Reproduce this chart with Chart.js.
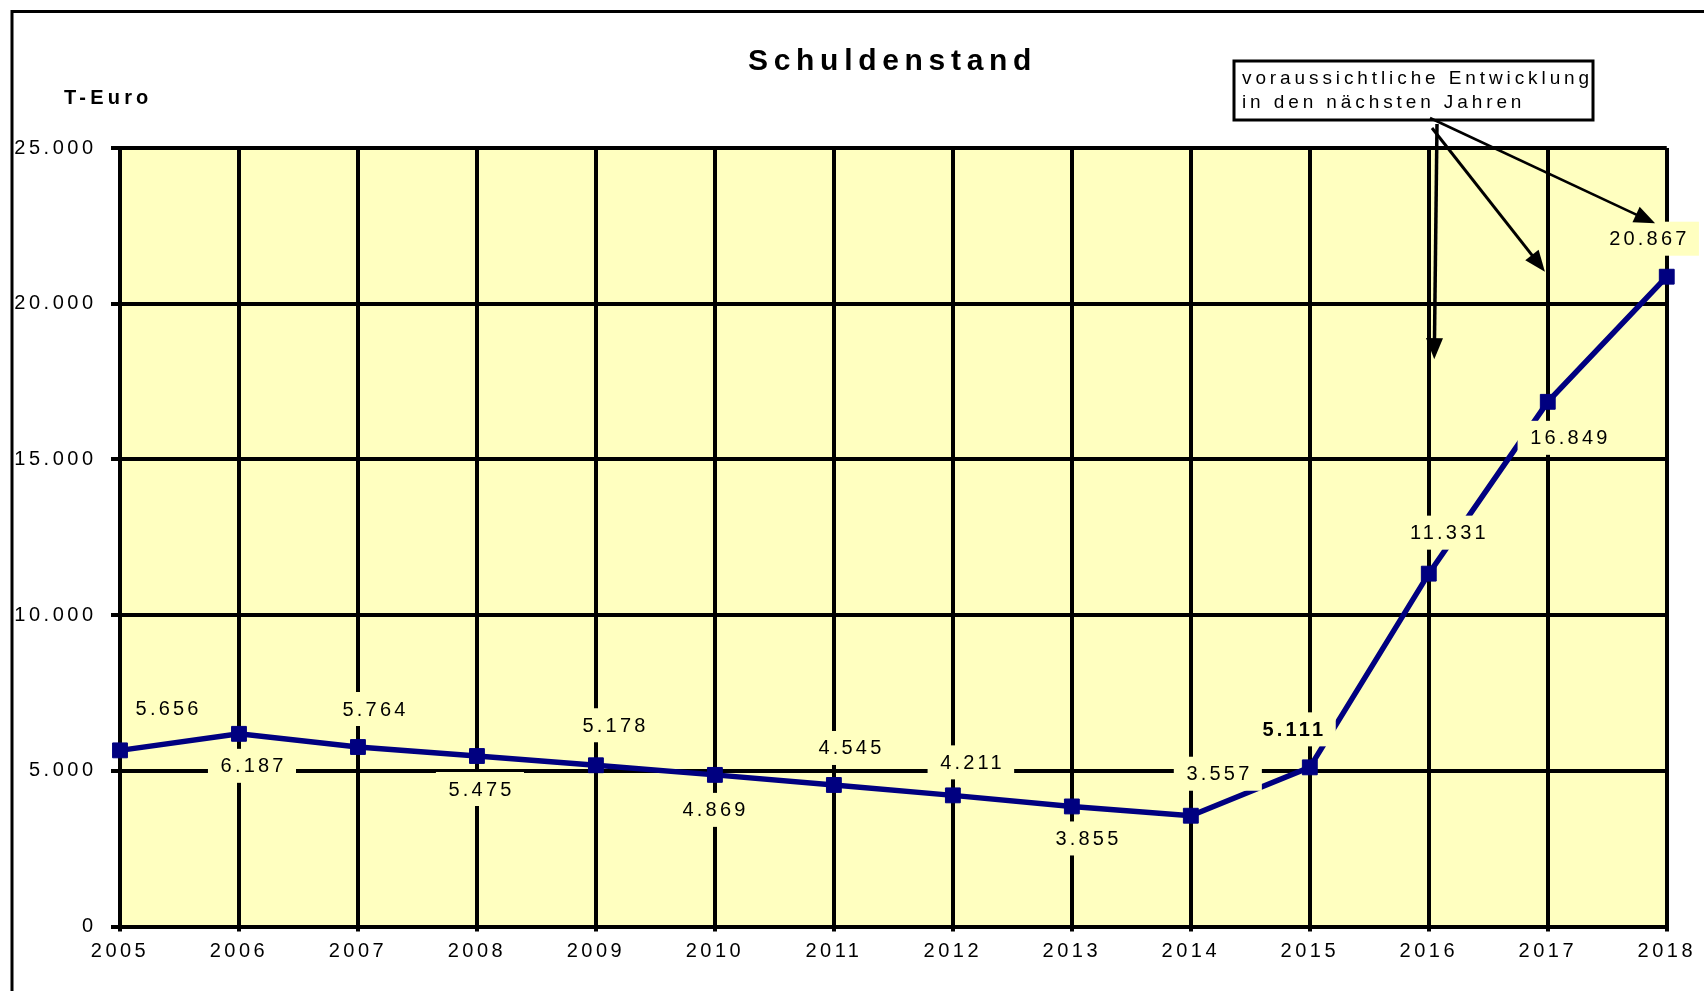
<!DOCTYPE html>
<html>
<head>
<meta charset="utf-8">
<title>Schuldenstand</title>
<script src="https://cdn.jsdelivr.net/npm/chart.js@4.4.1/dist/chart.umd.min.js"></script>
<style>
  html, body { margin: 0; padding: 0; background: #fff; }
  #wrap { position: relative; width: 1704px; height: 991px; }
</style>
</head>
<body>
<div id="wrap"><canvas id="myChart"></canvas></div>
<script>
const years = ["2005", "2006", "2007", "2008", "2009", "2010", "2011", "2012", "2013", "2014", "2015", "2016", "2017", "2018"];
const debt = [5656, 6187, 5764, 5475, 5178, 4869, 4545, 4211, 3855, 3557, 5111, 11331, 16849, 20867];
const yTicks = [0, 5000, 10000, 15000, 20000, 25000];

const title = "Schuldenstand";
const unit = "T-Euro";
const noteLines = ["voraussichtliche Entwicklung", "in den nächsten Jahren"];
// arrow tips in data space: [category index, value]
const noteTargets = [[11.046, 18220], [11.976, 21030], [12.902, 22580]];

// label placement relative to each point (pixels)
const labelOffsets = [
  [47, -42], [13, 32], [16, -38], [3, 33], [18, -40], [-1, 35], [16, -37],
  [18, -33], [15, 32], [27, -42], [-17, -38], [19, -41], [21, 36], [-19, -38],
];
const boldLabels = [10];

const plotYellow = "#FFFFC0";
const navy = "#000080";
const font = '"Liberation Sans", Arial, sans-serif';

function fmt(v) {
  return String(v).replace(/\B(?=(\d{3})+(?!\d))/g, ".");
}

const spacing = {
  id: "spacing",
  beforeLayout(chart) {
    chart.ctx.letterSpacing = "3.5px";
  },
  beforeDraw(chart) {
    const { ctx, chartArea } = chart;
    ctx.letterSpacing = "3.5px";
    ctx.save();
    ctx.fillStyle = plotYellow;
    ctx.fillRect(chartArea.left, chartArea.top, chartArea.right - chartArea.left, chartArea.bottom - chartArea.top);
    // outer frame
    ctx.strokeStyle = "#000";
    ctx.lineWidth = 3;
    ctx.beginPath();
    ctx.moveTo(12, 991);
    ctx.lineTo(12, 11.5);
    ctx.lineTo(1704, 11.5);
    ctx.stroke();
    ctx.restore();
  },
};

const valueLabels = {
  id: "valueLabels",
  afterDatasetsDraw(chart) {
    const { ctx } = chart;
    const meta = chart.getDatasetMeta(0);
    ctx.save();
    ctx.textAlign = "center";
    ctx.textBaseline = "middle";
    ctx.letterSpacing = "3.2px";
    meta.data.forEach((pt, i) => {
      const text = fmt(debt[i]);
      ctx.font = (boldLabels.includes(i) ? "bold " : "") + "20px " + font;
      const w = ctx.measureText(text).width;
      const cx = pt.x + labelOffsets[i][0];
      const cy = pt.y + labelOffsets[i][1];
      ctx.fillStyle = plotYellow;
      ctx.fillRect(cx - w / 2 - 11, cy - 17, w + 22, 34);
      ctx.fillStyle = "#000";
      ctx.fillText(text, cx + 1.6, cy + 1);
    });
    ctx.restore();
  },
};

function arrow(ctx, x1, y1, x2, y2, width) {
  const ang = Math.atan2(y2 - y1, x2 - x1);
  const len = 21, half = 8.5;
  const bx = x2 - Math.cos(ang) * len;
  const by = y2 - Math.sin(ang) * len;
  ctx.lineWidth = width;
  ctx.beginPath();
  ctx.moveTo(x1, y1);
  ctx.lineTo(bx + Math.cos(ang) * 2, by + Math.sin(ang) * 2);
  ctx.stroke();
  ctx.beginPath();
  ctx.moveTo(x2, y2);
  ctx.lineTo(bx + Math.sin(ang) * half, by - Math.cos(ang) * half);
  ctx.lineTo(bx - Math.sin(ang) * half, by + Math.cos(ang) * half);
  ctx.closePath();
  ctx.fill();
}

const texts = {
  id: "texts",
  afterDraw(chart) {
    const { ctx, scales } = chart;
    ctx.save();
    ctx.fillStyle = "#000";
    ctx.textAlign = "left";
    ctx.textBaseline = "alphabetic";

    ctx.font = "bold 30px " + font;
    ctx.letterSpacing = "5.7px";
    ctx.fillText(title, 748, 70);

    ctx.font = "bold 20px " + font;
    ctx.letterSpacing = "4.2px";
    ctx.fillText(unit, 64, 104);

    // note box
    const bx = 1234, by = 61, bw = 359, bh = 59;
    ctx.fillStyle = "#fff";
    ctx.fillRect(bx, by, bw, bh);
    ctx.strokeStyle = "#000";
    ctx.lineWidth = 3;
    ctx.strokeRect(bx, by, bw, bh);
    ctx.fillStyle = "#000";
    ctx.font = "19px " + font;
    ctx.letterSpacing = "3.9px";
    ctx.fillText(noteLines[0], bx + 8, by + 23);
    ctx.fillText(noteLines[1], bx + 8, by + 47);

    const starts = [[bx + 203, by + 63], [bx + 198, by + 67], [bx + 196, by + 57]];
    const widths = [3.5, 3, 2.5];
    noteTargets.forEach((t, i) => {
      const tx = scales.x.getPixelForValue(t[0]);
      const ty = scales.y.getPixelForValue(t[1]);
      arrow(ctx, starts[i][0], starts[i][1], tx, ty, widths[i]);
    });
    ctx.restore();
  },
};

const chart = new Chart("myChart", {
  type: "line",
  data: {
    labels: years,
    datasets: [
      {
        data: debt,
        borderColor: navy,
        backgroundColor: navy,
        borderWidth: 5.5,
        pointStyle: "rect",
        pointRadius: 10.5,
        pointBorderWidth: 1,
        pointBackgroundColor: navy,
        pointBorderColor: navy,
        tension: 0,
        clip: false,
      },
    ],
  },
  options: {
    responsive: true,
    maintainAspectRatio: false,
    animation: false,
    devicePixelRatio: 1,
    layout: {
      padding: { top: 148, right: 34, left: 0, bottom: 0 },
    },
    plugins: {
      legend: { display: false },
      tooltip: { enabled: false },
      title: { display: false },
    },
    scales: {
      x: {
        offset: false,
        grid: { color: "#000", lineWidth: 4, drawTicks: true, tickLength: 5 },
        border: { color: "#000", width: 4 },
        ticks: {
          color: "#000",
          font: { family: font, size: 20 },
          padding: 8,
          maxRotation: 0,
          autoSkip: false,
        },
        afterFit(scale) {
          scale.height = 64.5;
        },
      },
      y: {
        min: 0,
        max: 25000,
        afterBuildTicks(scale) {
          scale.ticks = yTicks.map((v) => ({ value: v }));
        },
        grid: { color: "#000", lineWidth: 4, drawTicks: true, tickLength: 9 },
        border: { color: "#000", width: 4 },
        ticks: {
          color: "#000",
          font: { family: font, size: 20 },
          padding: 14.5,
          callback: (v) => fmt(v),
        },
        afterFit(scale) {
          scale.width = 120;
        },
      },
    },
  },
  plugins: [spacing, valueLabels, texts],
});
</script>
</body>
</html>
